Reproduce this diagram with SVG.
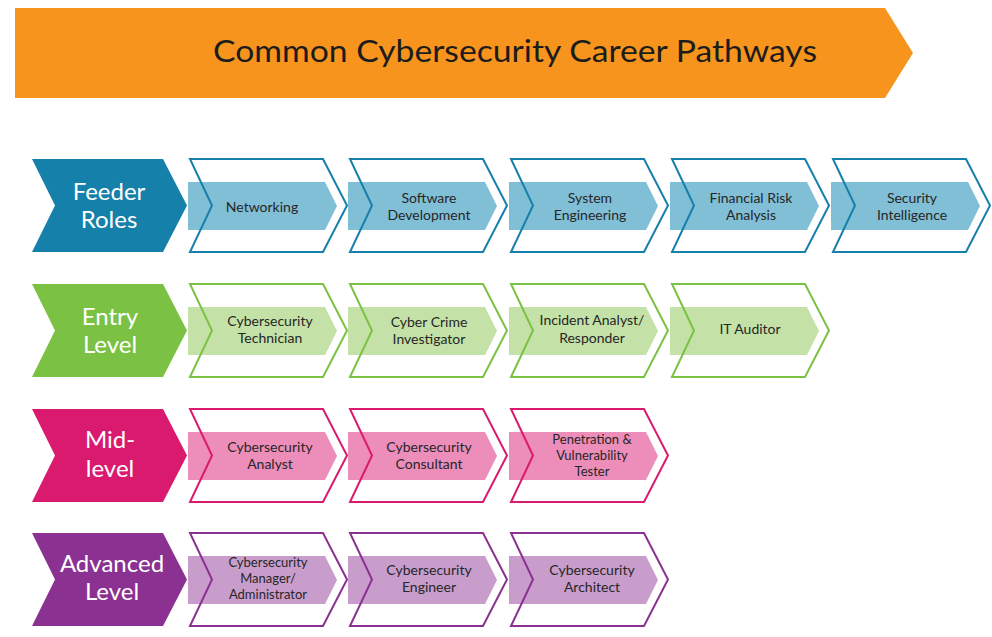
<svg xmlns="http://www.w3.org/2000/svg" xmlns:xlink="http://www.w3.org/1999/xlink" width="992" height="637" viewBox="0 0 992 637">
<style>
.title{font-family:Lato,"Open Sans","Liberation Sans",sans-serif;font-size:30px;fill:#1c1c1c;text-anchor:middle}
.head{font-family:Lato,"Open Sans","Liberation Sans",sans-serif;font-size:24px;fill:#ffffff;text-anchor:middle}
.lbl{font-family:Lato,"Open Sans","Liberation Sans",sans-serif;font-size:14px;fill:#262626;text-anchor:middle}
.sm{font-size:13px}
.ol{fill:none;stroke-width:2;stroke-linejoin:miter}
.blue .hd{fill:#1580aa}.blue .fl{fill:#80bfd6}.blue .ol{stroke:#1580aa}
.green .hd{fill:#7bc144}.green .fl{fill:#c4e2a7}.green .ol{stroke:#7bc144}
.pink .hd{fill:#d91a6f}.pink .fl{fill:#ed8db9}.pink .ol{stroke:#d91a6f}
.purple .hd{fill:#8a3191}.purple .fl{fill:#c99dcb}.purple .ol{stroke:#8a3191}
</style>
<defs>
<path id="headShape" d="M32,0 L163,0 L187,46.5 L163,93 L32,93 L55,46.5 Z"/>
<path id="fillShape" d="M-2,23 L135,23 L147,47 L135,71 L-2,71 Z"/>
<path id="outShape" d="M0,0 L133,0 L157,46.5 L133,93 L0,93 L22,46.5 Z"/>
</defs>
<rect width="992" height="637" fill="#ffffff"/>
<g id="banner">
<path d="M15,8 L885,8 L913,53 L885,98 L15,98 Z" fill="#f7941d"/>
<text class="title" x="515" y="62" textLength="604" lengthAdjust="spacingAndGlyphs">Common Cybersecurity Career Pathways</text>
</g>

<g id="row-feeder" class="blue" transform="translate(0,159)">
<g id="feeder-roles"><use href="#headShape" class="hd"/><text class="head" x="109" y="41">Feeder</text><text class="head" x="109" y="69">Roles</text></g>
<g id="networking" transform="translate(190,0)"><use href="#fillShape" class="fl"/><use href="#outShape" class="ol"/><text class="lbl" x="72" y="53">Networking</text></g>
<g id="software-development" transform="translate(350,0)"><use href="#fillShape" class="fl"/><use href="#outShape" class="ol"/><text class="lbl" x="79" y="44">Software</text><text class="lbl" x="79" y="61">Development</text></g>
<g id="system-engineering" transform="translate(511,0)"><use href="#fillShape" class="fl"/><use href="#outShape" class="ol"/><text class="lbl" x="79" y="44">System</text><text class="lbl" x="79" y="61">Engineering</text></g>
<g id="financial-risk-analysis" transform="translate(672,0)"><use href="#fillShape" class="fl"/><use href="#outShape" class="ol"/><text class="lbl" x="79" y="44">Financial Risk</text><text class="lbl" x="79" y="61">Analysis</text></g>
<g id="security-intelligence" transform="translate(833,0)"><use href="#fillShape" class="fl"/><use href="#outShape" class="ol"/><text class="lbl" x="79" y="44">Security</text><text class="lbl" x="79" y="61">Intelligence</text></g>
</g>

<g id="row-entry" class="green" transform="translate(0,284)">
<g id="entry-level"><use href="#headShape" class="hd"/><text class="head" x="110" y="41">Entry</text><text class="head" x="110" y="69">Level</text></g>
<g id="cybersecurity-technician" transform="translate(190,0)"><use href="#fillShape" class="fl"/><use href="#outShape" class="ol"/><text class="lbl" x="80" y="42">Cybersecurity</text><text class="lbl" x="80" y="59">Technician</text></g>
<g id="cyber-crime-investigator" transform="translate(350,0)"><use href="#fillShape" class="fl"/><use href="#outShape" class="ol"/><text class="lbl" x="79" y="43">Cyber Crime</text><text class="lbl" x="79" y="60">Investigator</text></g>
<g id="incident-analyst-responder" transform="translate(511,0)"><use href="#fillShape" class="fl"/><use href="#outShape" class="ol"/><text class="lbl" x="81" y="41">Incident Analyst/</text><text class="lbl" x="81" y="59">Responder</text></g>
<g id="it-auditor" transform="translate(672,0)"><use href="#fillShape" class="fl"/><use href="#outShape" class="ol"/><text class="lbl" x="78" y="50">IT Auditor</text></g>
</g>

<g id="row-mid" class="pink" transform="translate(0,409)">
<g id="mid-level"><use href="#headShape" class="hd"/><text class="head" x="110" y="39">Mid-</text><text class="head" x="110" y="68">level</text></g>
<g id="cybersecurity-analyst" transform="translate(190,0)"><use href="#fillShape" class="fl"/><use href="#outShape" class="ol"/><text class="lbl" x="80" y="43">Cybersecurity</text><text class="lbl" x="80" y="60">Analyst</text></g>
<g id="cybersecurity-consultant" transform="translate(350,0)"><use href="#fillShape" class="fl"/><use href="#outShape" class="ol"/><text class="lbl" x="79" y="43">Cybersecurity</text><text class="lbl" x="79" y="60">Consultant</text></g>
<g id="penetration-vulnerability-tester" transform="translate(511,0)"><use href="#fillShape" class="fl"/><use href="#outShape" class="ol"/><text class="lbl sm" x="81" y="35">Penetration &amp;</text><text class="lbl sm" x="81" y="51">Vulnerability</text><text class="lbl sm" x="81" y="67">Tester</text></g>
</g>

<g id="row-advanced" class="purple" transform="translate(0,533)">
<g id="advanced-level"><use href="#headShape" class="hd"/><text class="head" x="112" y="39">Advanced</text><text class="head" x="112" y="67">Level</text></g>
<g id="cybersecurity-manager" transform="translate(190,0)"><use href="#fillShape" class="fl"/><use href="#outShape" class="ol"/><text class="lbl sm" x="78" y="34">Cybersecurity</text><text class="lbl sm" x="78" y="50">Manager/</text><text class="lbl sm" x="78" y="66">Administrator</text></g>
<g id="cybersecurity-engineer" transform="translate(350,0)"><use href="#fillShape" class="fl"/><use href="#outShape" class="ol"/><text class="lbl" x="79" y="42">Cybersecurity</text><text class="lbl" x="79" y="59">Engineer</text></g>
<g id="cybersecurity-architect" transform="translate(511,0)"><use href="#fillShape" class="fl"/><use href="#outShape" class="ol"/><text class="lbl" x="81" y="42">Cybersecurity</text><text class="lbl" x="81" y="59">Architect</text></g>
</g>
<g id="connectors"/>
</svg>
